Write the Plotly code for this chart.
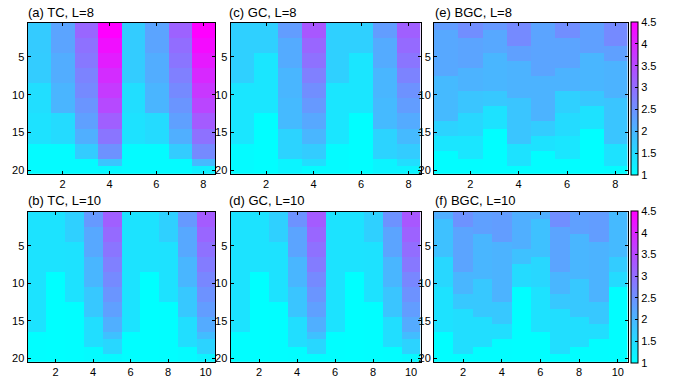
import plotly.graph_objects as go

# ---------------- data (columns of 20 rows each) ----------------
row_index = list(range(1, 21))

# (a) TC, L=8
a1 = [1.72, 1.72, 1.72, 1.72, 1.70, 1.70, 1.70, 1.70, 1.45, 1.45, 1.45, 1.45, 1.40, 1.40, 1.40, 1.40, 1.05, 1.05, 1.05, 1.05]
a2 = [2.25, 2.25, 2.25, 2.25, 2.12, 2.12, 2.12, 2.12, 2.02, 2.02, 2.02, 2.02, 1.50, 1.50, 1.50, 1.50, 1.05, 1.05, 1.05, 1.05]
a3 = [3.10, 3.10, 2.95, 2.95, 2.85, 2.85, 2.70, 2.70, 2.60, 2.60, 2.45, 2.45, 2.30, 2.30, 2.10, 2.10, 1.70, 1.70, 1.05, 1.05]
a4 = [4.50, 4.50, 4.30, 4.30, 4.10, 4.10, 3.90, 3.90, 3.70, 3.70, 3.50, 3.50, 3.20, 3.20, 2.90, 2.90, 2.50, 2.50, 1.80, 1.10]
a5 = [1.70, 1.70, 1.70, 1.70, 1.70, 1.70, 1.70, 1.70, 1.45, 1.45, 1.45, 1.45, 1.40, 1.40, 1.40, 1.40, 1.05, 1.05, 1.05, 1.05]
a6 = [2.25, 2.25, 2.25, 2.25, 2.12, 2.12, 2.12, 2.12, 2.02, 2.02, 2.02, 2.02, 1.50, 1.50, 1.50, 1.50, 1.05, 1.05, 1.05, 1.05]
a7 = [3.15, 3.15, 3.00, 3.00, 2.90, 2.90, 2.75, 2.75, 2.60, 2.60, 2.45, 2.45, 2.30, 2.30, 2.10, 2.10, 1.70, 1.70, 1.05, 1.05]
a8 = [4.50, 4.50, 4.35, 4.35, 4.15, 4.15, 3.95, 3.95, 3.75, 3.75, 3.55, 3.55, 3.25, 3.25, 2.95, 2.95, 2.60, 2.60, 1.95, 1.20]
tc_l8 = [a1, a2, a3, a4, a5, a6, a7, a8]

# (c) GC, L=8
c1 = [1.65, 1.65, 1.65, 1.65, 1.65, 1.65, 1.65, 1.65, 1.35, 1.35, 1.35, 1.35, 1.35, 1.35, 1.35, 1.35, 1.05, 1.05, 1.05, 1.05]
c2 = [1.65, 1.65, 1.65, 1.65, 1.35, 1.35, 1.35, 1.35, 1.35, 1.35, 1.35, 1.35, 1.02, 1.02, 1.02, 1.02, 1.02, 1.02, 1.02, 1.02]
c3 = [2.35, 2.35, 2.15, 2.15, 2.15, 2.15, 2.00, 2.00, 2.00, 2.00, 1.95, 1.95, 1.95, 1.95, 1.60, 1.60, 1.60, 1.60, 1.15, 1.15]
c4 = [3.30, 3.30, 3.10, 3.10, 2.95, 2.95, 2.75, 2.75, 2.55, 2.55, 2.40, 2.40, 2.20, 2.20, 2.00, 2.00, 1.70, 1.70, 1.45, 1.05]
c5 = [1.65, 1.65, 1.65, 1.65, 1.65, 1.65, 1.65, 1.65, 1.35, 1.35, 1.35, 1.35, 1.35, 1.35, 1.35, 1.35, 1.05, 1.05, 1.05, 1.05]
c6 = [1.65, 1.65, 1.65, 1.65, 1.35, 1.35, 1.35, 1.35, 1.35, 1.35, 1.35, 1.35, 1.02, 1.02, 1.02, 1.02, 1.02, 1.02, 1.02, 1.02]
c7 = [2.35, 2.35, 2.15, 2.15, 2.15, 2.15, 2.00, 2.00, 2.00, 2.00, 1.95, 1.95, 1.95, 1.95, 1.60, 1.60, 1.60, 1.60, 1.15, 1.15]
c8 = [3.20, 3.20, 3.05, 3.05, 2.90, 2.90, 2.70, 2.70, 2.50, 2.50, 2.35, 2.35, 2.15, 2.15, 1.95, 1.95, 1.70, 1.70, 1.45, 1.15]
gc_l8 = [c1, c2, c3, c4, c5, c6, c7, c8]

# (e) BGC, L=8
e1 = [2.35, 2.20, 2.20, 2.20, 2.20, 2.20, 2.20, 1.95, 1.95, 1.95, 1.95, 1.95, 1.95, 1.60, 1.60, 1.35, 1.35, 1.03, 1.03, 1.03]
e2 = [2.55, 2.55, 2.25, 2.25, 2.25, 2.25, 2.05, 2.05, 2.05, 1.80, 1.80, 1.80, 1.55, 1.55, 1.55, 1.35, 1.35, 1.35, 1.03, 1.03]
e3 = [2.40, 2.20, 2.20, 2.20, 2.00, 2.00, 2.00, 2.00, 2.00, 1.75, 1.75, 1.40, 1.40, 1.40, 1.02, 1.02, 1.02, 1.02, 1.02, 1.02]
e4 = [2.60, 2.60, 2.60, 2.30, 2.30, 2.05, 2.05, 2.05, 2.05, 2.05, 1.80, 1.80, 1.80, 1.80, 1.80, 1.80, 1.40, 1.40, 1.40, 1.03]
e5 = [2.25, 2.25, 2.25, 2.25, 2.25, 2.25, 2.25, 2.05, 2.05, 2.05, 2.05, 2.05, 2.05, 1.70, 1.70, 1.40, 1.40, 1.03, 1.03, 1.03]
e6 = [2.55, 2.55, 2.25, 2.25, 2.25, 2.25, 2.05, 2.05, 2.05, 1.65, 1.65, 1.65, 1.50, 1.50, 1.50, 1.35, 1.35, 1.35, 1.03, 1.03]
e7 = [2.30, 2.30, 2.30, 2.30, 2.00, 2.00, 2.00, 2.00, 2.00, 1.75, 1.75, 1.40, 1.40, 1.40, 1.02, 1.02, 1.02, 1.02, 1.02, 1.02]
e8 = [2.60, 2.60, 2.60, 2.30, 2.30, 2.05, 2.05, 2.05, 2.05, 2.05, 1.80, 1.80, 1.80, 1.80, 1.80, 1.80, 1.40, 1.40, 1.40, 1.05]
bgc_l8 = [e1, e2, e3, e4, e5, e6, e7, e8]

# (b) TC, L=10
b1 = [1.38, 1.38, 1.38, 1.38, 1.38, 1.38, 1.38, 1.38, 1.38, 1.38, 1.38, 1.38, 1.38, 1.38, 1.38, 1.38, 1.02, 1.02, 1.02, 1.02]
b2 = [1.38, 1.38, 1.38, 1.38, 1.38, 1.38, 1.38, 1.38, 1.00, 1.00, 1.00, 1.00, 1.00, 1.00, 1.00, 1.00, 1.00, 1.00, 1.00, 1.00]
b3 = [1.65, 1.65, 1.65, 1.65, 1.40, 1.40, 1.40, 1.40, 1.40, 1.40, 1.40, 1.40, 1.02, 1.02, 1.02, 1.02, 1.02, 1.02, 1.02, 1.02]
b4 = [2.40, 2.40, 2.20, 2.20, 2.20, 2.20, 2.00, 2.00, 2.00, 2.00, 1.75, 1.75, 1.75, 1.75, 1.45, 1.45, 1.45, 1.45, 1.05, 1.05]
b5 = [3.20, 3.20, 3.05, 3.05, 2.90, 2.90, 2.75, 2.75, 2.60, 2.60, 2.45, 2.45, 2.30, 2.30, 2.10, 2.10, 1.85, 1.55, 1.55, 1.08]
b6 = [1.38, 1.38, 1.38, 1.38, 1.38, 1.38, 1.38, 1.38, 1.38, 1.38, 1.38, 1.38, 1.38, 1.38, 1.38, 1.38, 1.02, 1.02, 1.02, 1.02]
b7 = [1.38, 1.38, 1.38, 1.38, 1.38, 1.38, 1.38, 1.38, 1.00, 1.00, 1.00, 1.00, 1.00, 1.00, 1.00, 1.00, 1.00, 1.00, 1.00, 1.00]
b8 = [1.65, 1.65, 1.65, 1.65, 1.40, 1.40, 1.40, 1.40, 1.40, 1.40, 1.40, 1.40, 1.02, 1.02, 1.02, 1.02, 1.02, 1.02, 1.02, 1.02]
b9 = [2.40, 2.40, 2.20, 2.20, 2.20, 2.20, 2.00, 2.00, 2.00, 2.00, 1.75, 1.75, 1.75, 1.75, 1.45, 1.45, 1.45, 1.45, 1.05, 1.05]
b10 = [3.25, 3.25, 3.10, 3.10, 2.95, 2.95, 2.80, 2.80, 2.65, 2.65, 2.50, 2.50, 2.35, 2.35, 2.15, 2.15, 1.90, 1.60, 1.60, 1.15]
tc_l10 = [b1, b2, b3, b4, b5, b6, b7, b8, b9, b10]

# (d) GC, L=10
d1 = [1.38, 1.38, 1.38, 1.38, 1.38, 1.38, 1.38, 1.38, 1.38, 1.38, 1.38, 1.38, 1.38, 1.38, 1.38, 1.38, 1.02, 1.02, 1.02, 1.02]
d2 = [1.38, 1.38, 1.38, 1.38, 1.38, 1.38, 1.38, 1.38, 1.00, 1.00, 1.00, 1.00, 1.00, 1.00, 1.00, 1.00, 1.00, 1.00, 1.00, 1.00]
d3 = [1.65, 1.65, 1.65, 1.65, 1.40, 1.40, 1.40, 1.40, 1.40, 1.40, 1.40, 1.40, 1.02, 1.02, 1.02, 1.02, 1.02, 1.02, 1.02, 1.02]
d4 = [2.50, 2.50, 2.25, 2.25, 2.25, 2.25, 2.00, 2.00, 2.00, 2.00, 1.80, 1.80, 1.80, 1.80, 1.45, 1.45, 1.45, 1.45, 1.03, 1.03]
d5 = [3.25, 3.25, 3.10, 3.10, 2.95, 2.95, 2.80, 2.80, 2.60, 2.60, 2.45, 2.45, 2.30, 2.30, 2.10, 2.10, 1.85, 1.55, 1.55, 1.03]
d6 = [1.38, 1.38, 1.38, 1.38, 1.38, 1.38, 1.38, 1.38, 1.38, 1.38, 1.38, 1.38, 1.38, 1.38, 1.38, 1.38, 1.02, 1.02, 1.02, 1.02]
d7 = [1.38, 1.38, 1.38, 1.38, 1.38, 1.38, 1.38, 1.38, 1.00, 1.00, 1.00, 1.00, 1.00, 1.00, 1.00, 1.00, 1.00, 1.00, 1.00, 1.00]
d8 = [1.65, 1.65, 1.65, 1.65, 1.40, 1.40, 1.40, 1.40, 1.40, 1.40, 1.40, 1.40, 1.02, 1.02, 1.02, 1.02, 1.02, 1.02, 1.02, 1.02]
d9 = [2.50, 2.50, 2.25, 2.25, 2.25, 2.25, 2.00, 2.00, 2.00, 2.00, 1.80, 1.80, 1.80, 1.80, 1.45, 1.45, 1.45, 1.45, 1.03, 1.03]
d10 = [3.30, 3.30, 3.15, 3.15, 3.00, 3.00, 2.85, 2.85, 2.65, 2.65, 2.50, 2.50, 2.35, 2.35, 2.15, 2.15, 1.90, 1.60, 1.60, 1.10]
gc_l10 = [d1, d2, d3, d4, d5, d6, d7, d8, d9, d10]

# (f) BGC, L=10
f1 = [2.10, 1.85, 1.85, 1.85, 1.85, 1.85, 1.55, 1.55, 1.55, 1.55, 1.40, 1.40, 1.40, 1.40, 1.40, 1.40, 1.02, 1.02, 1.02, 1.02]
f2 = [2.50, 2.50, 2.25, 2.25, 2.25, 2.25, 2.25, 2.25, 2.00, 2.00, 2.00, 1.75, 1.75, 1.45, 1.45, 1.45, 1.45, 1.45, 1.45, 1.02]
f3 = [2.30, 2.30, 2.30, 2.00, 2.00, 2.00, 2.00, 2.00, 2.00, 1.75, 1.75, 1.75, 1.75, 1.75, 1.45, 1.45, 1.45, 1.45, 1.03, 1.03]
f4 = [2.35, 2.35, 2.35, 2.35, 2.05, 2.05, 2.05, 2.05, 2.05, 2.05, 2.05, 2.05, 1.75, 1.75, 1.75, 1.45, 1.45, 1.03, 1.03, 1.03]
f5 = [2.10, 2.10, 2.10, 2.10, 2.10, 1.85, 1.85, 1.50, 1.50, 1.50, 1.02, 1.02, 1.02, 1.02, 1.02, 1.02, 1.02, 1.02, 1.02, 1.02]
f6 = [2.10, 1.85, 1.85, 1.85, 1.85, 1.85, 1.55, 1.55, 1.55, 1.55, 1.40, 1.40, 1.40, 1.40, 1.40, 1.40, 1.02, 1.02, 1.02, 1.02]
f7 = [2.55, 2.55, 2.25, 2.25, 2.25, 2.25, 2.25, 2.25, 2.00, 2.00, 2.00, 1.75, 1.75, 1.45, 1.45, 1.45, 1.45, 1.45, 1.45, 1.02]
f8 = [2.30, 2.30, 2.30, 2.00, 2.00, 2.00, 2.00, 2.00, 2.00, 1.75, 1.75, 1.75, 1.75, 1.75, 1.45, 1.45, 1.45, 1.45, 1.03, 1.03]
f9 = [2.35, 2.35, 2.35, 2.35, 2.05, 2.05, 2.05, 2.05, 2.05, 2.05, 2.05, 2.05, 1.75, 1.75, 1.75, 1.45, 1.45, 1.03, 1.03, 1.03]
f10 = [1.95, 1.95, 1.95, 1.95, 1.95, 1.95, 1.70, 1.70, 1.50, 1.50, 1.02, 1.02, 1.02, 1.02, 1.02, 1.02, 1.02, 1.02, 1.02, 1.02]
bgc_l10 = [f1, f2, f3, f4, f5, f6, f7, f8, f9, f10]

titles = ["(a) TC, L=8", "(c) GC, L=8", "(e) BGC, L=8",
          "(b) TC, L=10", "(d) GC, L=10", "(f) BGC, L=10"]
y_ticks = [5, 10, 15, 20]
x_ticks_l8 = [2, 4, 6, 8]
x_ticks_l10 = [2, 4, 6, 8, 10]
cbar_ticks = [1, 1.5, 2, 2.5, 3, 3.5, 4, 4.5]

# ---------------- layout ----------------
W, H = 677, 379
FONT = "Liberation Sans, Arial, sans-serif"
col_px = [(27.5, 215.0), (230.5, 420.5), (434.0, 627.5)]
row_px = [(23.0, 175.0), (213.0, 364.0)]
title_x_px = [26.0, 227.0, 433.0]
title_y_px = [3.0, 192.0]

cool = [[0.0, "rgb(0,255,255)"], [1.0, "rgb(255,0,255)"]]

def fx(px):
    return px / W

def fy(py):
    return 1 - py / H

def to_rows(cols):
    return [list(r) for r in zip(*cols)]

panels = [tc_l8, gc_l8, bgc_l8, tc_l10, gc_l10, bgc_l10]

fig = go.Figure()
layout = dict(
    width=W, height=H, margin=dict(l=0, r=0, t=0, b=0),
    paper_bgcolor="white", plot_bgcolor="white",
    font=dict(family=FONT, size=11, color="black"),
    showlegend=False, annotations=[],
)

for i, cols in enumerate(panels):
    r, c = divmod(i, 3)
    L = len(cols)
    n = i + 1
    xa = "x" if n == 1 else f"x{n}"
    ya = "y" if n == 1 else f"y{n}"
    cax = "coloraxis" if r == 0 else "coloraxis2"
    fig.add_trace(go.Heatmap(
        z=to_rows(cols), x=list(range(1, L + 1)), y=row_index,
        coloraxis=cax, xaxis=xa, yaxis=ya, xgap=0, ygap=0,
    ))
    x0, x1 = col_px[c]
    y0, y1 = row_px[r]
    ax_common = dict(showline=True, linecolor="black", linewidth=1, mirror="ticks",
                     ticks="inside", ticklen=3, tickcolor="black", tickwidth=1,
                     showgrid=False, zeroline=False,
                     tickfont=dict(family=FONT, size=11, color="black"))
    layout["xaxis" if n == 1 else f"xaxis{n}"] = dict(
        domain=[fx(x0), fx(x1)], anchor=ya, range=[0.5, L + 0.5],
        tickvals=(x_ticks_l8 if L == 8 else x_ticks_l10), **ax_common)
    layout["yaxis" if n == 1 else f"yaxis{n}"] = dict(
        domain=[fy(y1), fy(y0)], anchor=xa, range=[20.5, 0.5],
        tickvals=y_ticks, **ax_common)
    layout["annotations"].append(dict(
        text=titles[i], xref="paper", yref="paper",
        x=fx(title_x_px[c]), y=fy(title_y_px[r]),
        xanchor="left", yanchor="top", showarrow=False,
        font=dict(family=FONT, size=13, color="black")))

for k, cname in enumerate(["coloraxis", "coloraxis2"]):
    y0, y1 = row_px[k]
    layout[cname] = dict(
        colorscale=cool, cmin=1, cmax=4.5,
        colorbar=dict(
            x=fx(630.5), xanchor="left", xpad=0,
            y=fy((y0 + y1) / 2), yanchor="middle", ypad=0,
            lenmode="pixels", len=(y1 - y0 + 1), thickness=7,
            outlinewidth=1, outlinecolor="black",
            tickvals=cbar_ticks, ticktext=[str(t) for t in cbar_ticks],
            ticks="inside", ticklen=3, tickcolor="black",
            tickfont=dict(family=FONT, size=11, color="black"),
        ))

fig.update_layout(**layout)
# drop the page's default 8px body margin so the figure fills the window
fig.write_html("out.html", config={"displayModeBar": False},
               post_script="document.body.style.margin='0px';")
